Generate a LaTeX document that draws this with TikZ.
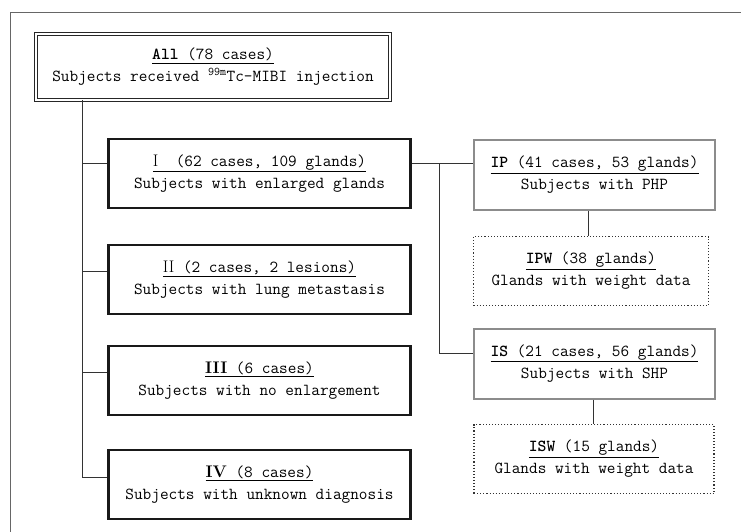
\documentclass[tikz,border=0pt]{standalone}
\usetikzlibrary{calc}
\begin{document}
\begin{tikzpicture}[x=1pt,y=-1pt,
  lbl/.style={font=\fontsize{16.8}{22}\selectfont\ttfamily, align=center, inner sep=0pt, text=black},
  mainbox/.style={lbl, draw=black!85, line width=1pt, double=white, double distance=2.4pt, minimum width=354pt, minimum height=66pt},
  thickbox/.style={lbl, draw=black!90, line width=2.6pt, minimum width=302.5pt, minimum height=69pt},
  graybox/.style={lbl, draw=black!45, line width=2pt, minimum width=241pt, minimum height=70pt},
  dotbox/.style={lbl, draw=black!80, line width=1.1pt, dotted, minimum height=69pt},
  conn/.style={draw=black!80, line width=0.9pt},
  framel/.style={draw=black!60, line width=0.8pt}
]
\useasboundingbox (0,0) rectangle (741,532);
\draw[framel] (10,532) -- (10,12) -- (741,12);

\node[mainbox] (all) at (213,67) {\underline{\textbf{All} (78 cases)}\\Subjects received \textsuperscript{99m}Tc-MIBI injection};

\node[thickbox] (I) at (259.5,173.5) {\underline{\textrm{I}\ \ (62 cases, 109 glands)}\\Subjects with enlarged glands};
\node[thickbox] (II) at (259.5,279.5) {\underline{\textrm{II}\ (2 cases, 2 lesions)}\\Subjects with lung metastasis};
\node[thickbox] (III) at (259.5,380.5) {\underline{\textrm{\bfseries III} (6 cases)}\\Subjects with no enlargement};
\node[thickbox] (IV) at (259.5,484.5) {\underline{\textrm{\bfseries IV} (8 cases)}\\Subjects with unknown diagnosis};

\node[graybox] (IP) at (594.5,175) {\underline{\textbf{IP} (41 cases, 53 glands)}\\Subjects with PHP};
\node[dotbox, minimum width=235pt] (IPW) at (591,271) {\underline{\textbf{IPW} (38 glands)}\\Glands with weight data};
\node[graybox] (IS) at (594.5,363.5) {\underline{\textbf{IS} (21 cases, 56 glands)}\\Subjects with SHP};
\node[dotbox, minimum width=240pt] (ISW) at (594,459) {\underline{\textbf{ISW} (15 glands)}\\Glands with weight data};

% trunk on the left
\coordinate (t) at (82,0);
\coordinate (bI) at ([yshift=10.5pt]I.west);
\coordinate (bII) at ([yshift=8.5pt]II.west);
\coordinate (bIII) at ([yshift=8.5pt]III.west);
\coordinate (bIV) at ([yshift=7.5pt]IV.west);
\draw[conn] (t |- all.south) |- (bIV);
\draw[conn] (t |- bI) -- (bI);
\draw[conn] (t |- bII) -- (bII);
\draw[conn] (t |- bIII) -- (bIII);

% right branches
\coordinate (rI) at ([yshift=10.5pt]I.east);
\coordinate (v) at (439,0);
\coordinate (bIS) at ([yshift=10.5pt]IS.west);
\draw[conn] (rI) -- (rI -| IP.west);
\draw[conn] (v |- rI) |- (bIS);
\coordinate (p) at (588,0);
\coordinate (s) at (593,0);
\draw[conn] (p |- IP.south) -- (p |- IPW.north);
\draw[conn] (s |- IS.south) -- (s |- ISW.north);
\end{tikzpicture}
\end{document}
